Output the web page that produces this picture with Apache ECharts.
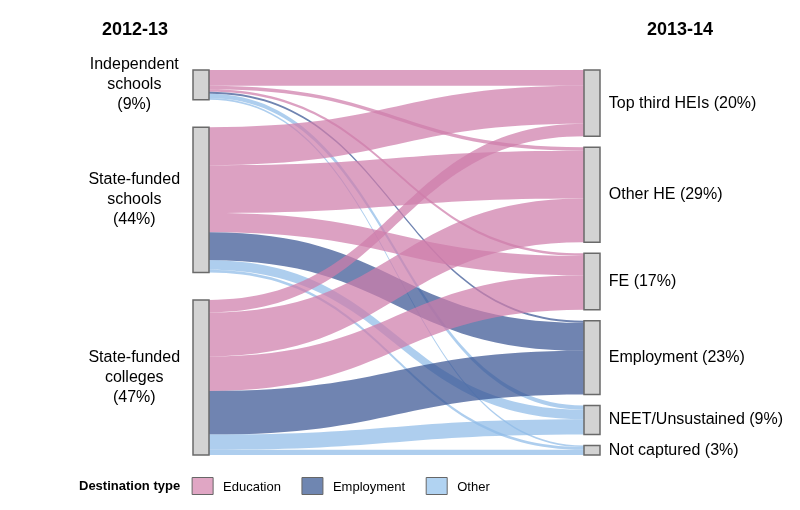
<!DOCTYPE html>
<html>
<head>
<meta charset="utf-8">
<script src="https://cdn.jsdelivr.net/npm/echarts@6/dist/echarts.min.js"></script>
<style>
html,body{margin:0;padding:0;background:#fff;}
#chart{width:800px;height:510px;}
</style>
</head>
<body>
<div id="chart"></div>
<script>
// ---------------- data ----------------
var sources = ['Independent schools', 'State-funded schools', 'State-funded colleges'];
var sourceLabels = ['Independent\nschools\n(9%)', 'State-funded\nschools\n(44%)', 'State-funded\ncolleges\n(47%)'];
var targets = ['Top third HEIs', 'Other HE', 'FE', 'Employment', 'NEET/Unsustained', 'Not captured'];
var targetLabels = ['Top third HEIs (20%)', 'Other HE (29%)', 'FE (17%)', 'Employment (23%)', 'NEET/Unsustained (9%)', 'Not captured (3%)'];
var targetTypes = ['Education', 'Education', 'Education', 'Employment', 'Other', 'Other'];
// share of cohort (%) flowing from each source to each target (order as targets)
var flowsIndependent = [4.8, 1.0, 0.8, 0.6, 1.3, 0.5];
var flowsStateSchools = [11.5, 14.5, 5.8, 8.5, 2.9, 0.8];
var flowsStateColleges = [3.8, 13.3, 10.5, 13.2, 4.6, 1.6];
var columnTitles = ['2012-13', '2013-14'];
var legendTitle = 'Destination type';
var typeNames = ['Education', 'Employment', 'Other'];

// ---------------- styles ----------------
var FONT = 'Liberation Sans, Arial, Helvetica, sans-serif';
var typeColors = { Education: '#cf7dab', Employment: '#395493', Other: '#8fbbe8' };
var legendColors = { Education: '#e0a6c4', Employment: '#6f86b1', Other: '#b1d3f2' };
var LINK_OPACITY = 0.72;

var S = { left: 193, top: 70, width: 407, height: 385, nodeWidth: 16, nodeGap: 11 };

var flows = [flowsIndependent, flowsStateSchools, flowsStateColleges];

// compute vertical spread of the left column (nodes spread over full height)
var srcTotals = flows.map(function (f) { return f.reduce(function (a, b) { return a + b; }, 0); });
var sumAll = srcTotals.reduce(function (a, b) { return a + b; }, 0);
var kyLeft = (S.height - (sources.length - 1) * S.nodeGap) / sumAll;
var kyRight = (S.height - (targets.length - 1) * S.nodeGap) / sumAll;
var ky = Math.min(kyLeft, kyRight);
var leftGap = (S.height - sumAll * ky) / (sources.length - 1);

var nodes = [];
var acc = 0;
sources.forEach(function (s, i) {
  nodes.push({
    name: s,
    depth: 0,
    localY: (acc * ky + i * leftGap) / S.height,
    label: {
      position: 'left', distance: 58, align: 'center',
      formatter: sourceLabels[i], lineHeight: 20
    }
  });
  acc += srcTotals[i];
});
targets.forEach(function (t, j) {
  nodes.push({
    name: t,
    depth: 1,
    label: { position: 'right', distance: 8, formatter: targetLabels[j] }
  });
});

var links = [];
sources.forEach(function (s, i) {
  targets.forEach(function (t, j) {
    links.push({
      source: s, target: t, value: flows[i][j],
      lineStyle: { color: typeColors[targetTypes[j]], opacity: LINK_OPACITY }
    });
  });
});

// ---------------- legend & titles via graphic ----------------
var measureCtx = document.createElement('canvas').getContext('2d');
function textW(str, font) { measureCtx.font = font; return measureCtx.measureText(str).width; }

var graphics = [];
graphics.push({
  type: 'text', x: 135, y: 30,
  style: { text: columnTitles[0], font: 'bold 18px ' + FONT, fill: '#000', textAlign: 'center', textVerticalAlign: 'middle' }
});
graphics.push({
  type: 'text', x: 680, y: 30,
  style: { text: columnTitles[1], font: 'bold 18px ' + FONT, fill: '#000', textAlign: 'center', textVerticalAlign: 'middle' }
});
// legend
var lx = 79, ly = 486;
graphics.push({
  type: 'text', x: lx, y: ly,
  style: { text: legendTitle, font: 'bold 13px ' + FONT, fill: '#000', textVerticalAlign: 'middle' }
});
lx += textW(legendTitle, 'bold 13px ' + FONT) + 12;
typeNames.forEach(function (n) {
  graphics.push({
    type: 'rect', shape: { x: lx, y: ly - 8.5, width: 21, height: 17 },
    style: { fill: legendColors[n], stroke: '#666', lineWidth: 1 }
  });
  lx += 21 + 10;
  graphics.push({
    type: 'text', x: lx, y: ly + 1,
    style: { text: n, font: '13px ' + FONT, fill: '#000', textVerticalAlign: 'middle' }
  });
  lx += textW(n, '13px ' + FONT) + 21;
});

var chart = echarts.init(document.getElementById('chart'), null, { renderer: 'canvas' });
chart.setOption({
  backgroundColor: '#fff',
  animation: false,
  graphic: graphics,
  series: [{
    type: 'sankey',
    left: S.left, top: S.top, width: S.width, height: S.height,
    nodeWidth: S.nodeWidth, nodeGap: S.nodeGap,
    layoutIterations: 0,
    draggable: false,
    emphasis: { disabled: true },
    itemStyle: { color: '#d3d3d3', borderColor: '#6a6a6a', borderWidth: 1.5 },
    lineStyle: { curveness: 0.5 },
    label: { color: '#000', fontSize: 16, fontFamily: FONT },
    data: nodes,
    links: links
  }]
});
</script>
</body>
</html>
